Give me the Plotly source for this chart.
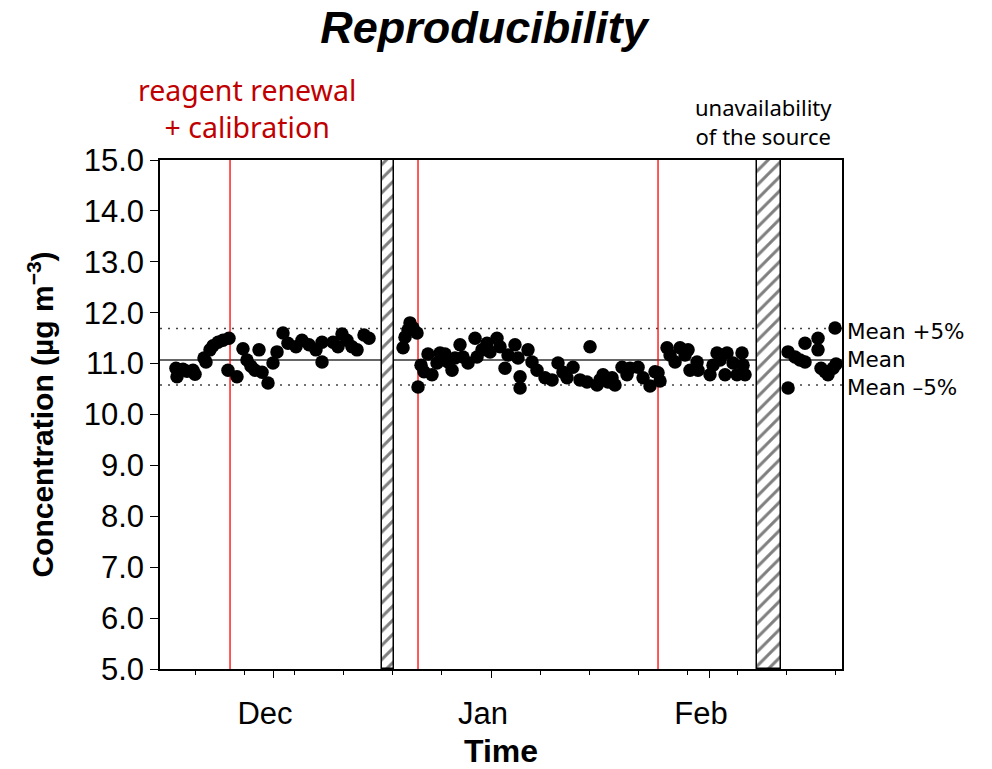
import pandas as pd
import plotly.graph_objects as go

# ---------------- data ----------------
# x position = days since 1 December; y = concentration (µg m-3)
day_offsets = [
    -13.80, -13.65, -12.80, -12.23, -11.38, -11.09, -9.81, -9.53, -8.96, -8.53,
    -7.82, -7.11, -6.26, -6.40, -5.12, -4.27, -3.70, -3.13, -2.56, -1.99,
    -1.56, -0.71, 0.00, 0.57, 1.42, 2.13, 3.27, 4.12, 5.12, 6.11,
    6.97, 6.97, 8.53, 9.24, 9.81, 10.52, 11.23, 11.95, 12.94, 13.65,
    18.49, 18.77, 19.20, 19.48, 19.91, 20.48, 20.62, 21.05, 21.47, 22.04,
    22.61, 23.32, 23.75, 24.46, 24.89, 25.46, 25.88, 26.59, 27.02, 27.73,
    28.73, 29.01, 29.72, 30.43, 30.86, 31.85, 32.28, 32.99, 33.42, 34.41,
    34.84, 35.13, 35.13, 36.26, 36.83, 37.54, 38.68, 39.68, 40.53, 41.81,
    42.66, 43.66, 44.65, 45.08, 46.08, 46.93, 47.64, 48.63, 49.63, 50.34,
    50.77, 51.91, 52.62, 53.61, 54.32, 41.24, 46.50, 48.21,
    54.75, 55.03, 56.03, 56.46, 57.17, 57.88, 58.59, 59.02, 59.30, 60.30,
    60.44, 62.14, 63.14, 63.57, 64.28, 64.56, 65.42, 65.98, 66.69, 66.84,
    67.12, 62.57,
    73.24, 73.24, 74.23, 74.94, 75.65, 75.65, 77.50, 77.50, 77.93, 78.50,
    78.92, 79.64, 79.92, 80.06,
]
concentration = [
    10.91, 10.74, 10.89, 10.85, 10.87, 10.79, 11.11, 11.03, 11.27, 11.35,
    11.42, 11.46, 11.50, 10.87, 10.74, 11.29, 11.07, 10.95, 10.87, 11.27,
    10.83, 10.62, 11.01, 11.23, 11.60, 11.40, 11.33, 11.46, 11.37, 11.27,
    11.03, 11.42, 11.42, 11.33, 11.58, 11.46, 11.33, 11.27, 11.56, 11.50,
    11.31, 11.52, 11.66, 11.80, 11.70, 11.60, 10.54, 10.97, 10.84, 11.19,
    10.78, 11.01, 11.21, 11.19, 11.03, 10.87, 11.11, 11.37, 11.13, 11.01,
    11.50, 11.13, 11.27, 11.40, 11.23, 11.50, 11.33, 10.91, 11.17, 11.37,
    11.11, 10.74, 10.52, 11.27, 11.03, 10.87, 10.72, 10.68, 11.01, 10.72,
    10.93, 10.68, 10.64, 11.33, 10.58, 10.78, 10.64, 10.58, 10.93, 10.78,
    10.91, 10.93, 10.72, 10.56, 10.84, 10.83, 10.68, 10.72,
    10.82, 10.66, 11.31, 11.17, 11.03, 11.31, 11.17, 11.27, 10.87, 11.03,
    10.87, 10.78, 11.21, 11.07, 10.78, 11.21, 11.01, 10.78, 11.21, 10.97,
    10.78, 10.97,
    11.23, 10.52, 11.13, 11.07, 11.40, 11.03, 11.50, 11.27, 10.91, 10.84,
    10.78, 10.91, 11.70, 10.99,
]

mean_level = 11.07
upper_level = 11.69   # Mean +5%
lower_level = 10.58   # Mean -5%
level_labels = ["Mean +5%", "Mean", "Mean \u20135%"]

calibration_days = [-6.11, 20.62, 54.75]           # red lines
gap_start_days = [15.50, 68.83]                     # hatched gaps
gap_end_days = [17.21, 72.24]

month_tick_days = [0, 31, 62]
month_tick_labels = ["Dec", "Jan", "Feb"]

x_range_days = [-16.07, 80.91]
y_range = [5.0, 15.0]

base = pd.Timestamp("2023-12-01")


def to_date(d):
    return base + pd.to_timedelta(d, unit="D")


x_dates = [to_date(d) for d in day_offsets]
x0, x1 = to_date(x_range_days[0]), to_date(x_range_days[1])

fig = go.Figure()

# hatched gaps as bars
gap_centers = [to_date((a + b) / 2) for a, b in zip(gap_start_days, gap_end_days)]
gap_widths = [(b - a) * 86400000 for a, b in zip(gap_start_days, gap_end_days)]
fig.add_trace(go.Bar(
    x=gap_centers, y=[y_range[1] - y_range[0]] * len(gap_centers),
    base=[y_range[0]] * len(gap_centers), width=gap_widths,
    marker=dict(color="white", line=dict(color="black", width=1.5),
                pattern=dict(shape="/", fgcolor="black", bgcolor="white",
                             size=10, solidity=0.3)),
    showlegend=False, hoverinfo="skip",
))

fig.add_trace(go.Scatter(
    x=x_dates, y=concentration, mode="markers",
    marker=dict(color="black", size=13.5, line=dict(width=0)),
    showlegend=False,
))

# mean and +-5% lines (below traces)
fig.add_shape(type="line", xref="x", yref="y", x0=x0, x1=x1,
              y0=mean_level, y1=mean_level, layer="below",
              line=dict(color="#333333", width=1.5))
for lvl in (upper_level, lower_level):
    fig.add_shape(type="line", xref="x", yref="y", x0=x0, x1=x1,
                  y0=lvl, y1=lvl, layer="below",
                  line=dict(color="#444444", width=1.3, dash="2px,6px"))

for d in calibration_days:
    fig.add_shape(type="line", xref="x", yref="y", x0=to_date(d), x1=to_date(d),
                  y0=y_range[0], y1=y_range[1], layer="below",
                  line=dict(color="#FF0000", width=1.3))

# right side labels (one block; line spacing matches the level spacing)
fig.add_annotation(xref="paper", x=1, xanchor="left", xshift=3,
                   yref="y", y=mean_level, yanchor="middle", yshift=1,
                   text="<br>".join(level_labels), showarrow=False, align="left",
                   font=dict(family="DejaVu Sans", size=21.5, color="black"))

fig.add_annotation(xref="x", x=to_date(-3.7), yref="paper", y=1.0, yanchor="bottom",
                   yshift=12, text="reagent renewal<br>+ calibration",
                   showarrow=False, align="center",
                   font=dict(family="Noto Sans", size=28.5, color="#C00000"))
fig.add_annotation(xref="x", x=to_date(69.8), yref="paper", y=1.0, yanchor="bottom",
                   yshift=7, text="unavailability<br>of the source",
                   showarrow=False, align="center",
                   font=dict(family="Noto Sans", size=22, color="black"))

fig.update_layout(
    width=992, height=769,
    margin=dict(l=160, r=150, t=160, b=100, autoexpand=False),
    paper_bgcolor="white", plot_bgcolor="white",
    bargap=0,
    title=dict(text="<b><i>Reproducibility</i></b>", x=0.488, xanchor="center",
               y=0.965, yanchor="middle",
               font=dict(family="Liberation Sans", size=45, color="black")),
    font=dict(family="Liberation Sans", color="black"),
)

fig.update_xaxes(
    type="date", range=[x0, x1], automargin=False,
    tickmode="array", tickvals=[to_date(d) for d in month_tick_days],
    ticktext=month_tick_labels,
    ticks="outside", ticklen=7, tickwidth=1.3, tickcolor="black",
    ticklabelshift=-8, ticklabelstandoff=9,
    minor=dict(ticks="outside", ticklen=4, tickwidth=1.3, tickcolor="black",
               tick0=to_date(-11.0), dtick=7 * 86400000),
    tickfont=dict(family="Liberation Sans", size=31, color="black"),
    showline=True, linecolor="black", linewidth=1.5, mirror=True,
    showgrid=False, zeroline=False,
    title=dict(text="<b>Time</b>", standoff=11,
               font=dict(family="Liberation Sans", size=32, color="black")),
)
fig.update_yaxes(
    range=y_range, tickmode="linear", tick0=5, dtick=1, tickformat=".1f",
    automargin=False,
    ticks="outside", ticklen=8, tickwidth=1.3, tickcolor="black",
    tickfont=dict(family="Liberation Sans", size=31, color="black"),
    showline=True, linecolor="black", linewidth=1.5, mirror=True,
    showgrid=False, zeroline=False,
    title=dict(text="<b>Concentration (µg m<sup>\u22123</sup>)</b>", standoff=21,
               font=dict(family="Liberation Sans", size=30, color="black")),
)

fig.write_html("out.html")
